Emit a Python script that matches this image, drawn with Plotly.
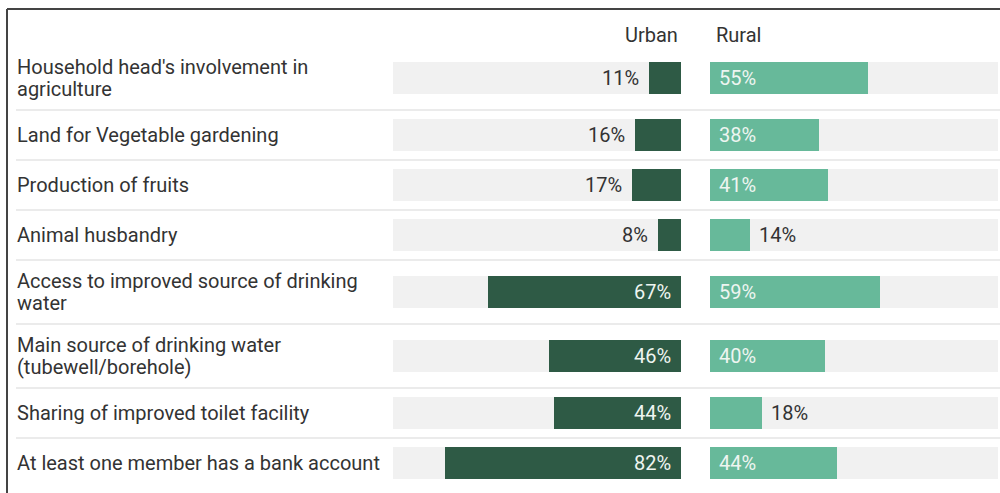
import plotly.graph_objects as go

# Indicators, top to bottom
labels = [
    "Household head's involvement in<br>agriculture",
    "Land for Vegetable gardening",
    "Production of fruits",
    "Animal husbandry",
    "Access to improved source of drinking<br>water",
    "Main source of drinking water<br>(tubewell/borehole)",
    "Sharing of improved toilet facility",
    "At least one member has a bank account",
]
urban = [11, 16, 17, 8, 67, 46, 44, 82]
rural = [55, 38, 41, 14, 59, 40, 18, 44]

W, H = 1000, 493
DARK = "#2e5a45"
LIGHT = "#67b99a"
BAND = "#f1f1f1"
FONT = "Roboto"
FS = 20
TXT = "#333333"

# Row geometry (pixels): taller rows for two-line labels
top = 46
row_h = [64 if "<br>" in t else 50 for t in labels]
centers, bounds = [], []
y = top
for h in row_h:
    centers.append(y + h / 2)
    y += h
    bounds.append(y)
bar_w = 32
line_gap = 22

fig = go.Figure()

# Background bands (full 100%)
for xa in ("x", "x2"):
    fig.add_trace(go.Bar(x=[100] * len(labels), y=centers, orientation="h",
                         width=bar_w, marker=dict(color=BAND, line_width=0),
                         xaxis=xa, yaxis="y", hoverinfo="skip", showlegend=False))

fig.add_trace(go.Bar(x=urban, y=centers, orientation="h", width=bar_w,
                     marker=dict(color=DARK, line_width=0), xaxis="x", yaxis="y",
                     name="Urban", showlegend=False))
fig.add_trace(go.Bar(x=rural, y=centers, orientation="h", width=bar_w,
                     marker=dict(color=LIGHT, line_width=0), xaxis="x2", yaxis="y",
                     name="Rural", showlegend=False))

ann = []
# Row labels (each line placed separately for tight line spacing)
for t, c in zip(labels, centers):
    lines = t.split("<br>")
    n = len(lines)
    for i, ln in enumerate(lines):
        ann.append(dict(text=ln, xref="paper", yref="y", x=15 / W,
                        y=c + (i - (n - 1) / 2) * line_gap,
                        xanchor="left", yanchor="middle", align="left", showarrow=False,
                        font=dict(family=FONT, size=FS, color=TXT)))

# Value labels: inside the bar near its base when it fits, otherwise past its end
FIT = 25
for v, c in zip(urban, centers):
    inside = v >= FIT
    ann.append(dict(text=f"{v}%", xref="x", yref="y", x=0 if inside else v, y=c,
                    xanchor="right", yanchor="middle", xshift=-8, showarrow=False,
                    font=dict(family=FONT, size=FS,
                              color="#eef5f1" if inside else TXT)))
for v, c in zip(rural, centers):
    inside = v >= FIT
    ann.append(dict(text=f"{v}%", xref="x2", yref="y", x=0 if inside else v, y=c,
                    xanchor="left", yanchor="middle", xshift=7, showarrow=False,
                    font=dict(family=FONT, size=FS,
                              color="#eef5f1" if inside else TXT)))

# Column headers
ann.append(dict(text="Urban", xref="x", yref="y", x=0, y=35, xanchor="right",
                yanchor="middle", xshift=-1, showarrow=False,
                font=dict(family=FONT, size=FS, color=TXT)))
ann.append(dict(text="Rural", xref="x2", yref="y", x=0, y=35, xanchor="left",
                yanchor="middle", xshift=4, showarrow=False,
                font=dict(family=FONT, size=FS, color=TXT)))

shapes = []
# Row separators
for b in bounds[:-1]:
    shapes.append(dict(type="line", xref="paper", yref="y", x0=16 / W, x1=1,
                       y0=b, y1=b, line=dict(color="#e4e4e4", width=1.5)))
# Frame
shapes.append(dict(type="line", xref="paper", yref="paper", x0=7 / W, x1=1,
                   y0=1 - 9 / H, y1=1 - 9 / H, line=dict(color="#444444", width=2)))
shapes.append(dict(type="line", xref="paper", yref="paper", x0=7 / W, x1=7 / W,
                   y0=0, y1=1 - 9 / H, line=dict(color="#444444", width=2)))

fig.update_layout(
    width=W, height=H, margin=dict(l=0, r=0, t=0, b=0),
    paper_bgcolor="white", plot_bgcolor="white", barmode="overlay",
    bargap=0,
    xaxis=dict(domain=[393 / W, 681 / W], range=[100, 0], visible=False, fixedrange=True),
    xaxis2=dict(domain=[710 / W, 998 / W], range=[0, 100], visible=False, fixedrange=True),
    yaxis=dict(domain=[0, 1], range=[H, 0], visible=False, fixedrange=True),
    annotations=ann, shapes=shapes, showlegend=False,
)

fig.write_html("out.html")
